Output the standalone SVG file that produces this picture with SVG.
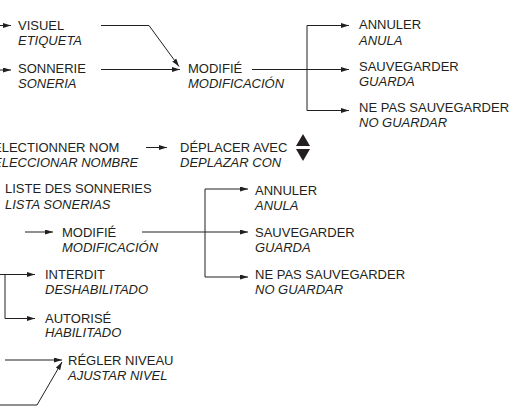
<svg xmlns="http://www.w3.org/2000/svg" width="515" height="409" viewBox="0 0 515 409">
<defs>
<marker id="ah" viewBox="0 0 8 5" refX="8" refY="2.5" markerWidth="8" markerHeight="5" orient="auto" markerUnits="userSpaceOnUse">
<path d="M0,0 L8,2.5 L0,5 z" fill="#231f20"/>
</marker>
<style>
text{font-family:"Liberation Sans",Arial,sans-serif;font-size:13px;fill:#231f20}
.es{font-style:italic}
.c{fill:none;stroke:#231f20;stroke-width:1}
.a{marker-end:url(#ah)}
.tri{fill:#231f20}
</style>
</defs>
<rect width="515" height="409" fill="#fff"/>
<g id="connectors">
<line class="c a" x1="0" y1="25.5" x2="11" y2="25.5"/>
<line class="c a" x1="0" y1="70" x2="11" y2="70"/>
<path class="c a" d="M101,25.5 H149 L179,66.5"/>
<line class="c a" x1="101" y1="69.5" x2="180" y2="69.5"/>
<line class="c a" x1="252" y1="69.5" x2="349" y2="69.5"/>
<path class="c" d="M307,25.5 V110.5"/>
<line class="c a" x1="307" y1="25.5" x2="349" y2="25.5"/>
<line class="c a" x1="307" y1="110.5" x2="349" y2="110.5"/>
<line class="c a" x1="146" y1="147.5" x2="167" y2="147.5"/>
<line class="c a" x1="25" y1="232" x2="53" y2="232"/>
<line class="c a" x1="142" y1="232" x2="248" y2="232"/>
<path class="c" d="M205,189 V277"/>
<line class="c a" x1="205" y1="189" x2="248" y2="189"/>
<line class="c a" x1="205" y1="277" x2="248" y2="277"/>
<line class="c a" x1="0" y1="274.5" x2="35" y2="274.5"/>
<path class="c" d="M5,274.5 V318.5"/>
<line class="c a" x1="5" y1="318.5" x2="35" y2="318.5"/>
<line class="c a" x1="5" y1="360" x2="62" y2="360"/>
<path class="c a" d="M0,405 H37 L62,362"/>
</g>
<g id="n-visuel"><text x="18" y="29.5">VISUEL</text><text class="es" x="18" y="45">ETIQUETA</text></g>
<g id="n-sonnerie"><text x="18" y="72.5">SONNERIE</text><text class="es" x="18" y="88">SONERIA</text></g>
<g id="n-modifie1"><text x="188" y="72.5">MODIFIÉ</text><text class="es" x="188" y="88">MODIFICACIÓN</text></g>
<g id="n-annuler1"><text x="359" y="29">ANNULER</text><text class="es" x="359" y="44.5">ANULA</text></g>
<g id="n-sauvegarder1"><text x="359" y="70.5">SAUVEGARDER</text><text class="es" x="359" y="85.5">GUARDA</text></g>
<g id="n-nepas1"><text x="359" y="111.5">NE PAS SAUVEGARDER</text><text class="es" x="359" y="126.5">NO GUARDAR</text></g>
<g id="n-selectionner"><text x="-7" y="151.5">ELECTIONNER NOM</text><text class="es" x="-7" y="166.5">ELECCIONAR NOMBRE</text></g>
<g id="n-deplacer"><text x="180" y="151.5">DÉPLACER AVEC</text><text class="es" x="180" y="166.5">DEPLAZAR CON</text>
<polygon class="tri" points="296,146 310,146 303,134"/><polygon class="tri" points="296,149 310,149 303,161"/></g>
<g id="n-liste"><text x="5" y="193">LISTE DES SONNERIES</text><text class="es" x="5" y="208.5">LISTA SONERIAS</text></g>
<g id="n-modifie2"><text x="62" y="237">MODIFIÉ</text><text class="es" x="62" y="252">MODIFICACIÓN</text></g>
<g id="n-annuler2"><text x="255" y="194.5">ANNULER</text><text class="es" x="255" y="210">ANULA</text></g>
<g id="n-sauvegarder2"><text x="255" y="237">SAUVEGARDER</text><text class="es" x="255" y="251.5">GUARDA</text></g>
<g id="n-nepas2"><text x="255" y="279">NE PAS SAUVEGARDER</text><text class="es" x="255" y="294">NO GUARDAR</text></g>
<g id="n-interdit"><text x="45" y="278.5">INTERDIT</text><text class="es" x="45" y="293.5">DESHABILITADO</text></g>
<g id="n-autorise"><text x="45" y="322.5">AUTORISÉ</text><text class="es" x="45" y="337">HABILITADO</text></g>
<g id="n-regler"><text x="68" y="365">RÉGLER NIVEAU</text><text class="es" x="68" y="379.5">AJUSTAR NIVEL</text></g>
</svg>
